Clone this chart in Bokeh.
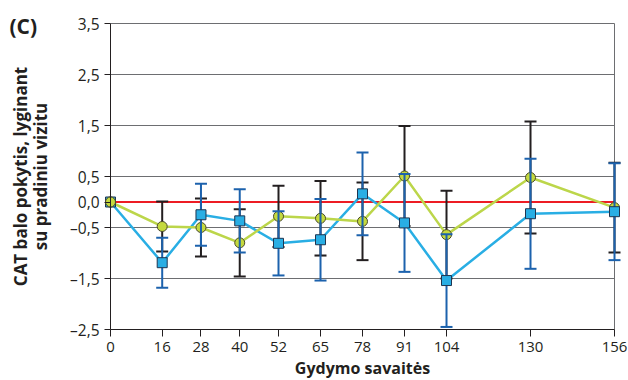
import math
import numpy as np
from bokeh.plotting import figure
from bokeh.models import FixedTicker, Label, Range1d
from bokeh.embed import file_html
from bokeh.resources import INLINE

weeks = [0, 16, 28, 40, 52, 65, 78, 91, 104, 130, 156]
green_mean = [0.0, -0.48, -0.50, -0.80, -0.28, -0.32, -0.38, 0.51, -0.64, 0.48, -0.11]
green_err = [np.nan, 0.49, 0.57, 0.66, 0.60, 0.73, 0.76, 0.98, 0.86, 1.10, 0.88]
blue_mean = [0.0, -1.19, -0.25, -0.37, -0.81, -0.74, 0.16, -0.41, -1.54, -0.23, -0.19]
blue_err = [np.nan, 0.49, 0.61, 0.62, 0.63, 0.80, 0.81, 0.96, 0.91, 1.08, 0.95]

y_ticks = [-2.5, -1.5, -0.5, 0.0, 0.5, 1.5, 2.5, 3.5]
y_tick_labels = ["–2,5", "–1,5", "–0,5", "0,0", "0,5", "1,5", "2,5", "3,5"]
grid_levels = [-1.5, -0.5, 0.5, 1.5, 2.5, 3.5]

panel_label = "(C)"
y_title_1 = "CAT balo pokytis, lyginant"
y_title_2 = "su pradiniu vizitu"
x_title = "Gydymo savaitės"

FONT = "Open Sans"
INK = "#231f20"
X0, X1 = weeks[0], weeks[-1]
Y0, Y1 = y_ticks[0], y_ticks[-1]

W, H = 628, 380
# frame covers the whole canvas; axes are pinned to the chart box origin
p = figure(width=W, height=H, output_backend="svg", toolbar_location=None, title=None,
           x_range=Range1d(-34.05, 160.33), y_range=Range1d(-3.5, 3.951),
           min_border_left=0, min_border_right=0, min_border_top=0, min_border_bottom=0)
p.outline_line_color = None
p.background_fill_color = "white"
p.border_fill_color = "white"
p.grid.visible = False

for ax in (p.xaxis[0], p.yaxis[0]):
    ax.axis_line_color = INK
    ax.axis_line_width = 1
    ax.major_tick_line_color = INK
    ax.major_tick_in = 0
    ax.minor_tick_line_color = None
    ax.major_label_text_font = FONT
    ax.major_label_text_font_size = "15px"
    ax.major_label_text_color = INK

xa = p.xaxis[0]
xa.ticker = FixedTicker(ticks=weeks)
xa.fixed_location = Y0
xa.bounds = (X0, X1)
xa.major_tick_out = 7
xa.major_label_standoff = 5

ya = p.yaxis[0]
ya.ticker = FixedTicker(ticks=y_ticks)
ya.major_label_overrides = {t: l for t, l in zip(y_ticks, y_tick_labels)}
ya.major_label_text_font_size = "15.5px"
ya.fixed_location = X0
ya.bounds = (Y0, Y1)
ya.major_tick_out = 6
ya.major_label_standoff = 5

# horizontal grid lines and right frame line
n = len(grid_levels)
p.segment([X0] * n, grid_levels, [X1] * n, grid_levels, line_color="#6d6e71", line_width=1)
p.segment([X1], [Y0], [X1], [Y1], line_color="#6d6e71", line_width=1)
p.segment([X0], [0], [X1], [0], line_color="#ed1c24", line_width=2)

gm = np.array(green_mean); ge = np.array(green_err)
bm = np.array(blue_mean); be = np.array(blue_err)
x = np.array(weeks, dtype=float)

p.line(x, bm, line_color="#29aee4", line_width=2.5)
p.line(x, gm, line_color="#bcd64a", line_width=2.5)
p.segment(x, gm - ge, x, gm + ge, line_color=INK, line_width=2)
p.dash(x, gm + ge, size=12, line_color=INK, line_width=2)
p.dash(x, gm - ge, size=12, line_color=INK, line_width=2)
p.scatter(x, gm, marker="circle", size=10, fill_color="#c4d93e", line_color="#4a4a2a", line_width=1)
p.segment(x, bm - be, x, bm + be, line_color="#1c62ad", line_width=2)
p.dash(x, bm + be, size=12, line_color="#1c62ad", line_width=2)
p.dash(x, bm - be, size=12, line_color="#1c62ad", line_width=2)
p.scatter(x, bm, marker="square", size=10, fill_color="#29aee4", line_color="#1f3550", line_width=1)
# baseline point: green marker shown on top in the reference
p.scatter(x[:1], gm[:1], marker="circle", size=10, fill_color="#c4d93e", line_color="#4a4a2a", line_width=1)

def lab(text, cx, cy, size, angle=0.0, align="center"):
    p.add_layout(Label(x=cx, y=H - cy, x_units="screen", y_units="screen", text=text,
                       angle=angle, text_font=FONT, text_font_style="bold",
                       text_font_size=size, text_color=INK,
                       text_baseline="middle", text_align=align))

lab(panel_label, 9, 25, "21px", align="left")
lab(y_title_1, 20, 176, "17px", angle=math.pi / 2)
lab(y_title_2, 40, 176, "17px", angle=math.pi / 2)
lab(x_title, 362, 367, "16px")

open("out.html", "w").write(file_html(p, INLINE))
